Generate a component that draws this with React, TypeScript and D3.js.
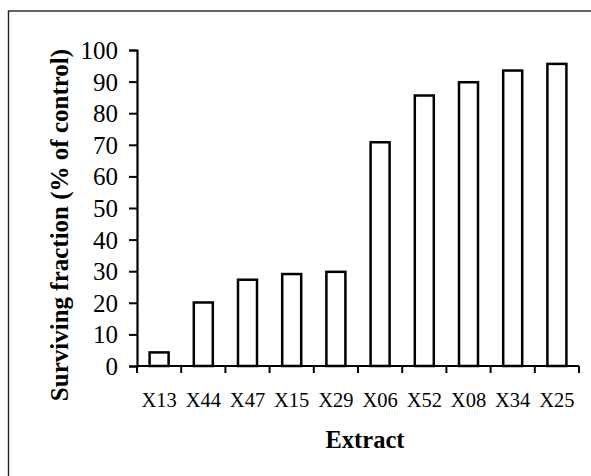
import * as React from 'react';
import * as d3 from 'd3';

const extracts = ['X13', 'X44', 'X47', 'X15', 'X29', 'X06', 'X52', 'X08', 'X34', 'X25'];
const surviving = [4.3, 20.1, 27.3, 29.1, 29.8, 70.8, 85.6, 89.8, 93.5, 95.6];
const yTicks = [0, 10, 20, 30, 40, 50, 60, 70, 80, 90, 100];

const W = 591;
const H = 476;
const margin = { top: 50, right: 12, bottom: 110, left: 137 };
const FONT = '"Liberation Serif", "Times New Roman", Times, serif';

export default function App() {
  const xAxisRef = React.useRef<SVGGElement>(null);
  const yAxisRef = React.useRef<SVGGElement>(null);

  const width = W - margin.left - margin.right;
  const height = H - margin.top - margin.bottom;

  const x = d3.scaleBand<string>()
    .domain(extracts)
    .range([0, width])
    .paddingInner(0.57)
    .paddingOuter(0.285);
  const y = d3.scaleLinear().domain([0, 100]).range([height, 0]);

  React.useEffect(() => {
    // x axis: ticks sit between the bars
    const xa = d3.select(xAxisRef.current);
    xa.selectAll('*').remove();
    xa.append('line')
      .attr('x1', 0).attr('x2', width)
      .attr('stroke', '#000').attr('stroke-width', 2.2);
    const step = x.step();
    xa.selectAll('line.tick')
      .data(d3.range(extracts.length + 1))
      .join('line')
      .attr('class', 'tick')
      .attr('x1', (i) => i * step).attr('x2', (i) => i * step)
      .attr('y1', 0).attr('y2', 7)
      .attr('stroke', '#000').attr('stroke-width', 2);
    xa.selectAll('text')
      .data(extracts)
      .join('text')
      .attr('x', (d) => (x(d) as number) + x.bandwidth() / 2)
      .attr('y', 41)
      .attr('text-anchor', 'middle')
      .style('font-family', FONT)
      .style('font-size', '20.5px')
      .text((d) => d);

    // y axis
    d3.select(yAxisRef.current)
      .call(d3.axisLeft(y).tickValues(yTicks).tickSize(8).tickPadding(11).tickSizeOuter(8))
      .call((g) => g.select('.domain').attr('stroke-width', 2.2))
      .call((g) => g.selectAll('.tick line').attr('stroke-width', 2))
      .call((g) => g.selectAll('.tick text')
        .style('font-family', FONT)
        .style('font-size', '25px')
        .attr('dy', '0.34em'));
  }, []);

  return (
    <svg width={W} height={H} style={{ position: 'absolute', left: 0, top: 0, background: '#fff' }}>
      <rect x={8.5} y={11} width={W + 20} height={H + 20} fill="none" stroke="#222" strokeWidth={1.4} />
      <g transform={`translate(${margin.left}, ${margin.top})`}>
        {extracts.map((d, i) => (
          <rect
            key={d}
            x={x(d)}
            y={y(surviving[i])}
            width={x.bandwidth()}
            height={height - y(surviving[i])}
            fill="#fff"
            stroke="#000"
            strokeWidth={2.5}
          />
        ))}
        <g ref={yAxisRef} />
        <g ref={xAxisRef} transform={`translate(0, ${height})`} />
        <text
          x={width / 2 + 7}
          y={height + 82}
          textAnchor="middle"
          style={{ fontFamily: FONT, fontSize: 24.5, fontWeight: 'bold' }}
        >
          Extract
        </text>
      </g>
      <text
        transform={`translate(68, ${225}) rotate(-90)`}
        textAnchor="middle"
        style={{ fontFamily: FONT, fontSize: 25, fontWeight: 'bold' }}
      >
        Surviving fraction (% of control)
      </text>
    </svg>
  );
}
